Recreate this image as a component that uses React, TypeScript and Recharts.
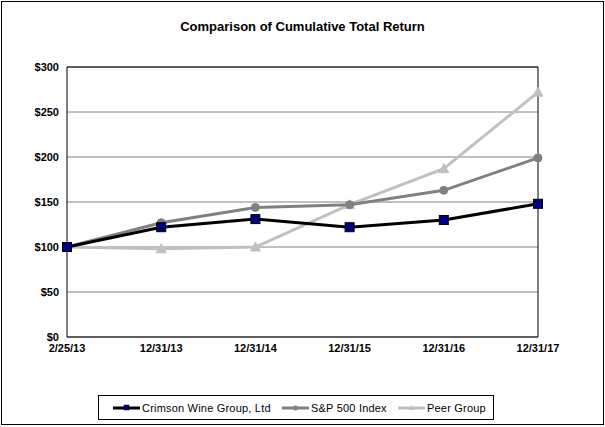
import React from "react";
import {
  LineChart,
  Line,
  XAxis,
  YAxis,
  CartesianGrid,
  ReferenceLine,
  Legend,
} from "recharts";

const dates = ["2/25/13", "12/31/13", "12/31/14", "12/31/15", "12/31/16", "12/31/17"];
const crimson = [100, 122, 131, 122, 130, 148];
const sp500 = [100, 127, 144, 147, 163, 199];
const peer = [100, 98, 100, 147, 187, 272];
const yTicks = [0, 50, 100, 150, 200, 250, 300];

const data = dates.map((d, i) => ({
  date: d,
  crimson: crimson[i],
  sp500: sp500[i],
  peer: peer[i],
}));

const FONT = '"Liberation Sans", Arial, sans-serif';

const SquareDot = (props: any) => {
  const { cx, cy, index } = props;
  if (cx == null || cy == null) return <g key={`s${index}`} />;
  return (
    <rect key={`s${index}`} x={cx - 4.5} y={cy - 4.5} width={9} height={9} fill="#000080" stroke="#000" strokeWidth={1} />
  );
};

const CircleDot = (props: any) => {
  const { cx, cy, index } = props;
  if (cx == null || cy == null) return <g key={`c${index}`} />;
  return <circle key={`c${index}`} cx={cx} cy={cy} r={4} fill="#808080" stroke="#808080" />;
};

const TriDot = (props: any) => {
  const { cx, cy, index } = props;
  if (cx == null || cy == null) return <g key={`t${index}`} />;
  return (
    <polygon
      key={`t${index}`}
      points={`${cx},${cy - 5} ${cx + 5},${cy + 4} ${cx - 5},${cy + 4}`}
      fill="#c0c0c0"
      stroke="#c0c0c0"
    />
  );
};

const legendItems = [
  { label: "Crimson Wine Group, Ltd", color: "#000", marker: "square", w: 169 },
  { label: "S&P 500 Index", color: "#808080", marker: "circle", w: 116 },
  { label: "Peer Group", color: "#c0c0c0", marker: "tri", w: 90 },
];

const LegendBox = () => (
  <div
    style={{
      border: "1px solid #000",
      height: 25,
      display: "flex",
      alignItems: "center",
      paddingLeft: 14,
      fontFamily: FONT,
      fontSize: 11,
      letterSpacing: 0.2,
      color: "#000",
      boxSizing: "border-box",
      whiteSpace: "nowrap",
    }}
  >
    {legendItems.map((it) => (
      <div key={it.label} style={{ display: "flex", alignItems: "center", flexShrink: 0, width: it.w }}>
        <svg width={27} height={10} style={{ flexShrink: 0 }}>
          <line x1={0} y1={5} x2={27} y2={5} stroke={it.color} strokeWidth={3} />
          {it.marker === "square" && <rect x={11} y={2} width={5} height={5} fill="#000080" stroke="#000" strokeWidth={0.5} />}
          {it.marker === "circle" && <circle cx={13.5} cy={5} r={2.5} fill="#808080" />}
          {it.marker === "tri" && <polygon points="13.5,2 16.5,7 10.5,7" fill="#c0c0c0" />}
        </svg>
        <span style={{ marginLeft: 2 }}>{it.label}</span>
      </div>
    ))}
  </div>
);

const App = () => {
  return (
    <div style={{ position: "absolute", left: 0, top: 0, width: 605, height: 427, background: "#fff" }}>
      <div
        style={{
          position: "absolute",
          left: 1,
          top: 1,
          width: 601,
          height: 422,
          border: "1px solid #000",
        }}
      />
      <div
        style={{
          position: "absolute",
          left: 0,
          top: 19,
          width: 605,
          textAlign: "center",
          fontFamily: FONT,
          fontWeight: "bold",
          fontSize: 13,
          color: "#000",
        }}
      >
        Comparison of Cumulative Total Return
      </div>
      <LineChart
        width={605}
        height={427}
        data={data}
        margin={{ top: 67, right: 67, left: 0, bottom: 60 }}
        style={{ position: "absolute", left: 0, top: 0 }}
      >
        <CartesianGrid vertical={false} stroke="#808080" strokeWidth={1} />
        <XAxis
          dataKey="date"
          axisLine={{ stroke: "#000" }}
          tickLine={false}
          tickSize={0}
          tickMargin={7}
          height={30}
          interval={0}
          tick={{ fill: "#000", fontSize: 11, fontWeight: "bold", fontFamily: FONT }}
        />
        <YAxis
          domain={[0, 300]}
          ticks={yTicks}
          width={67}
          axisLine={{ stroke: "#000" }}
          tickLine={false}
          tickSize={0}
          tickMargin={8}
          tickFormatter={(v: number) => `$${v}`}
          tick={{ fill: "#000", fontSize: 11, fontWeight: "bold", fontFamily: FONT }}
        />
        <ReferenceLine y={300} stroke="#000" />
        <ReferenceLine x="12/31/17" stroke="#000" />
        <Line
          dataKey="peer"
          stroke="#c0c0c0"
          strokeWidth={3}
          dot={TriDot}
          isAnimationActive={false}
        />
        <Line
          dataKey="sp500"
          stroke="#808080"
          strokeWidth={3}
          dot={CircleDot}
          isAnimationActive={false}
        />
        <Line
          dataKey="crimson"
          stroke="#000"
          strokeWidth={3}
          dot={SquareDot}
          isAnimationActive={false}
        />
        <Legend
          layout="horizontal"
          verticalAlign="middle"
          align="center"
          content={() => <LegendBox />}
          wrapperStyle={{ position: "absolute", left: 98, top: 395, width: 396 }}
        />
      </LineChart>
    </div>
  );
};

export default App;
